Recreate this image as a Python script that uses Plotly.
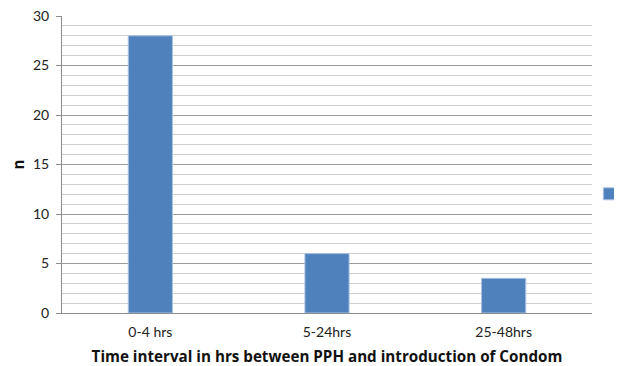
import plotly.graph_objects as go

categories = ["0-4 hrs", "5-24hrs", "25-48hrs"]
values = [28, 6, 3.5]
series_name = "n"

FONT = "Lato"
# page body has an 8px margin, so the figure is drawn 8px smaller
W, H = 614, 358

fig = go.Figure()
fig.add_trace(go.Bar(
    x=categories, y=values, name=series_name,
    marker=dict(color="#4F81BD", line=dict(color="#A9C1E0", width=1)),
    width=0.25, showlegend=True,
))

fig.update_layout(
    width=W, height=H,
    margin=dict(l=54, r=30, t=8, b=53, autoexpand=False),
    paper_bgcolor="white", plot_bgcolor="white",
    font=dict(family=FONT, size=14, color="#222"),
    showlegend=True,
    legend=dict(x=0.995, y=0.40, xanchor="left", yanchor="middle",
                bgcolor="rgba(0,0,0,0)", font=dict(size=14)),
    bargap=0.75,
)
fig.update_xaxes(
    showline=True, linecolor="#8c8c8c", linewidth=1,
    ticks="", showgrid=False,
    title=dict(text="<b>Time interval in hrs between PPH and introduction of Condom</b>",
               font=dict(family="Open Sans", size=15.2, color="#111"), standoff=18),
    tickfont=dict(size=14, color="#222"),
    ticklabelstandoff=6,
)
fig.update_yaxes(
    range=[0, 30], dtick=5, tick0=0,
    showline=True, linecolor="#8c8c8c", linewidth=1,
    ticks="outside", ticklen=5, tickcolor="#8c8c8c",
    showgrid=True, gridcolor="#9a9a9a", gridwidth=1,
    zeroline=False,
    minor=dict(dtick=1, showgrid=True, gridcolor="#cfcfcf", gridwidth=1, ticks=""),
    title=dict(text="<b>n</b>", font=dict(family="Open Sans", size=15.2, color="#111"), standoff=8),
    tickfont=dict(size=14, color="#222"),
    ticklabelstandoff=4,
    ticklabeloverflow="allow",
)

fig.write_html("out.html")
